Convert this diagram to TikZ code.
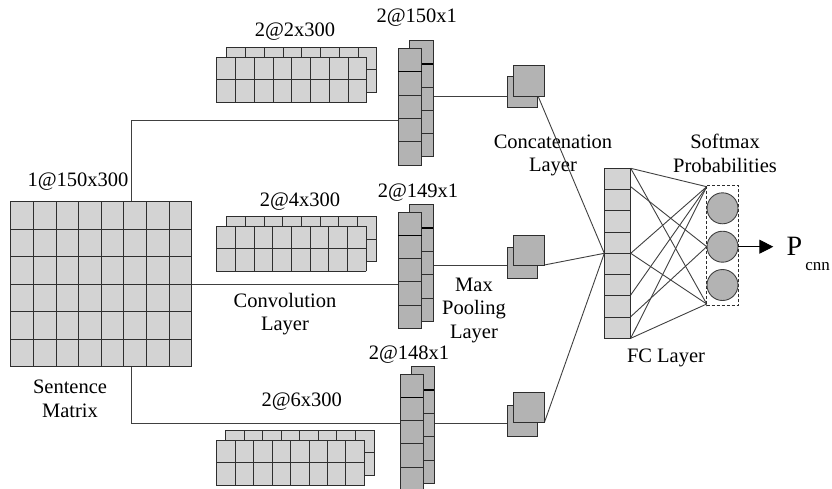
\documentclass[tikz,border=0pt]{standalone}
\usepackage{fontspec}
\setmainfont{Liberation Serif}
\newfontfamily\tnrfont{Liberation Serif}
\usetikzlibrary{arrows.meta}
\definecolor{lightcell}{HTML}{D3D3D3}
\definecolor{darkcell}{HTML}{B3B3B3}
\definecolor{edgecol}{HTML}{2E2E2E}
\definecolor{wirecol}{HTML}{404040}
\newcommand{\GridBox}[7]{%
  \fill[#7] (#1,#2) rectangle (#3,#4);
  \foreach \k in {0,...,#5}{\draw[cellline] ({#1+\k*(#3-#1)/#5},#2) -- ({#1+\k*(#3-#1)/#5},#4);}
  \foreach \k in {0,...,#6}{\draw[cellline] (#1,{#2+\k*(#4-#2)/#6}) -- (#3,{#2+\k*(#4-#2)/#6});}
}
\begin{document}
\begin{tikzpicture}[x=1pt,y=-1pt,
  cellline/.style={draw=edgecol,line width=0.9pt,line cap=rect},
  wire/.style={draw=wirecol,line width=0.9pt},
  sep/.style={draw=black,line width=1.7pt},
  lbl/.style={inner sep=0pt,align=center,font=\tnrfont\fontsize{20.5}{23.5}\selectfont,text=black}]
\useasboundingbox (0,0) rectangle (832,488);
\clip (0,0) rectangle (832,488);

% ---------- connection points ----------
\coordinate (smT) at (131.7,201.7);
\coordinate (smB) at (131.7,366.7);
\coordinate (smR) at (191.7,284);
\coordinate (c1in) at (398.3,120);
\coordinate (c2in) at (398.3,284);
\coordinate (c3in) at (400.7,423.3);
\coordinate (c1out) at (433.3,96);
\coordinate (c2out) at (433.3,265);
\coordinate (c3out) at (434.3,423.3);
\coordinate (p1in) at (507.7,96);
\coordinate (p2in) at (507.7,265);
\coordinate (p3in) at (507.7,423.3);
\coordinate (p1out) at (538.3,96.7);
\coordinate (p2out) at (544.3,265);
\coordinate (p3out) at (544.3,422.7);
\coordinate (fcin) at (604.3,253.3);
\coordinate (f1) at (630.7,168.3);
\coordinate (f2) at (630.7,186.7);
\coordinate (f3) at (630.7,253.3);
\coordinate (f4) at (630.7,295);
\coordinate (f5) at (630.7,316.7);
\coordinate (f6) at (630.7,338.3);
\coordinate (t1) at (706.7,186.7);
\coordinate (t2) at (706.7,246.7);
\coordinate (t3) at (706.7,304);
\coordinate (ptip) at (773.3,246.7);

% ---------- connectors ----------
\draw[wire] (smT) |- (c1in);
\draw[wire] (smR) -- (c2in);
\draw[wire] (smB) |- (c3in);
\draw[wire] (c1out) -- (p1in);
\draw[wire] (c2out) -- (p2in);
\draw[wire] (c3out) -- (p3in);
\draw[wire] (p1out) -- (fcin);
\draw[wire] (p2out) -- (fcin);
\draw[wire] (p3out) -- (fcin);
\draw[wire] (f1) -- (t1);
\draw[wire] (f1) -- (t3);
\draw[wire] (f2) -- (t2);
\draw[wire] (f3) -- (t1);
\draw[wire] (f3) -- (t3);
\draw[wire] (f4) -- (t1);
\draw[wire] (f5) -- (t2);
\draw[wire] (f6) -- (t1);
\draw[wire] (f6) -- (t3);

% ---------- sentence matrix ----------
\GridBox{10.7}{201.7}{191.7}{366.7}{8}{6}{lightcell}

% ---------- filters ----------
\GridBox{226.7}{47.3}{376.7}{92.3}{8}{2}{lightcell}
\GridBox{216.7}{57.3}{366.7}{102.3}{8}{2}{lightcell}
\GridBox{226.7}{216.7}{376}{261.2}{8}{2}{lightcell}
\GridBox{216.7}{226.7}{366}{271}{8}{2}{lightcell}
\GridBox{225.7}{430}{374}{475.7}{8}{2}{lightcell}
\GridBox{216.7}{440}{364.3}{485}{8}{2}{lightcell}

% ---------- feature-map columns ----------
\GridBox{409.3}{40.7}{433.3}{156.7}{1}{5}{darkcell}
\draw[sep] (409.3,63.9) -- (433.3,63.9);
\GridBox{398.3}{48.3}{421.7}{165}{1}{5}{darkcell}
\draw[sep] (398.3,71.6) -- (421.7,71.6);
\GridBox{409.3}{204.3}{433.3}{321.7}{1}{5}{darkcell}
\draw[sep] (409.3,227.8) -- (433.3,227.8);
\GridBox{398.3}{212.3}{421.7}{328.3}{1}{5}{darkcell}
\draw[sep] (398.3,235.5) -- (421.7,235.5);
\GridBox{411.7}{366.7}{434.3}{483.3}{1}{5}{darkcell}
\draw[sep] (411.7,390) -- (434.3,390);
\GridBox{400.7}{374.3}{423.3}{490.3}{1}{5}{darkcell}
\draw[sep] (400.7,397.6) -- (423.3,397.6);

% ---------- pooled squares ----------
\GridBox{507.7}{76.7}{537.3}{107.7}{1}{1}{darkcell}
\GridBox{513.3}{65}{544.3}{96.7}{1}{1}{darkcell}
\GridBox{507.7}{247.7}{537.3}{278.3}{1}{1}{darkcell}
\GridBox{513.3}{235.7}{544.3}{265}{1}{1}{darkcell}
\GridBox{507.7}{405.7}{537.3}{436}{1}{1}{darkcell}
\GridBox{513.3}{392.7}{544.3}{422.7}{1}{1}{darkcell}

% ---------- FC layer ----------
\GridBox{604.3}{168.3}{630.7}{338.3}{1}{8}{lightcell}

% ---------- softmax ----------
\draw[draw=edgecol,line width=0.8pt,dash pattern=on 3pt off 2pt] (706.7,185.7) rectangle (738.3,305.7);
\node[circle,draw=wirecol,line width=0.9pt,fill=darkcell,minimum size=31pt,inner sep=0pt] (s1) at (722.5,208.3) {};
\node[circle,draw=wirecol,line width=0.9pt,fill=darkcell,minimum size=31pt,inner sep=0pt] (s2) at (722.5,246.7) {};
\node[circle,draw=wirecol,line width=0.9pt,fill=darkcell,minimum size=31pt,inner sep=0pt] (s3) at (722.5,285) {};
\draw[draw=black,line width=0.9pt,-{Triangle[length=14pt,width=14pt]}] (s2.east) -- (ptip);

% ---------- labels ----------
\node[lbl] (lA) at (295,32) {2@2x300};
\node[lbl] (lB) at (416.7,18) {2@150x1};
\node[lbl] (lC) at (78,182) {1@150x300};
\node[lbl] (lD) at (418,193) {2@149x1};
\node[lbl] (lE) at (300,201.7) {2@4x300};
\node[lbl] (lF) at (285,314) {Convolution\\Layer};
\node[lbl] (lG) at (474,310) {Max\\Pooling\\Layer};
\node[lbl] (lH) at (409,355) {2@148x1};
\node[lbl] (lI) at (301.7,401.7) {2@6x300};
\node[lbl] (lJ) at (70,399) {Sentence\\Matrix};
\node[lbl] (lK) at (553,155.5) {Concatenation\\Layer};
\node[lbl] (lL) at (666,358) {FC Layer};
\node[lbl] (lM) at (725,153.5) {Softmax\\Probabilities};
\node[inner sep=0pt,anchor=base west] (lP) at (786.5,255) {\tnrfont\fontsize{28}{28}\selectfont P\hspace{3pt}\raisebox{-15pt}{\fontsize{17}{17}\selectfont cnn}};
\end{tikzpicture}
\end{document}
